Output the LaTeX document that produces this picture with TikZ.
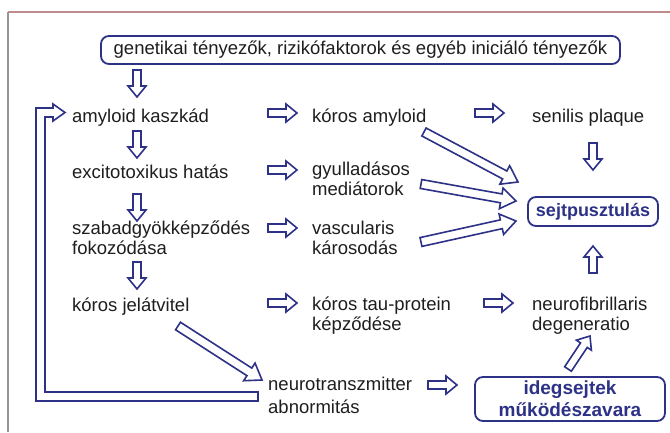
\documentclass[tikz,border=0pt]{standalone}
\usepackage{fontspec}
\setmainfont{Liberation Sans}
\usetikzlibrary{calc}
\definecolor{ab}{RGB}{45,50,135}
\definecolor{tx}{RGB}{30,30,30}
\definecolor{frametop}{RGB}{190,140,140}
\definecolor{frameleft}{RGB}{150,150,150}
\def\as{4}\def\ah{9}\def\ak{11}
\newcommand\barr[3][]{%
  \path[arr,#1] let \p1=(#2), \p2=(#3), \n1={atan2(\y2-\y1,\x2-\x1)}, \n2={veclen(\x2-\x1,\y2-\y1)} in
   [shift={(\p1)}, rotate=\n1] (0,-\as) -- (\n2-\ak,-\as) -- (\n2-\ak,-\ah) -- (\n2,0) -- (\n2-\ak,\ah) -- (\n2-\ak,\as) -- (0,\as) -- cycle;}
\tikzset{
  arr/.style={draw=ab, fill=white, line width=1.6pt, line join=miter},
  bigarr/.code={\def\as{4.5}\def\ah{10.5}\def\ak{15}},
  lbl/.style={anchor=base west, inner sep=0pt, text=tx, align=left, font=\fontsize{18.5}{20}\selectfont},
  box/.style={draw=ab, line width=1.8pt, rounded corners=8pt, inner sep=0pt, align=center},
}
\begin{document}
\begin{tikzpicture}[x=1pt, y=-1pt]
\useasboundingbox (0,0) rectangle (670,432);
\fill[white] (0,0) rectangle (670,432);
% frame
\draw[frametop, line width=1.2pt] (8,12) -- (670,12);
\draw[frameleft, line width=1.6pt] (8,12) -- (8,432);

% boxes
\node[box, minimum width=519pt, minimum height=28pt, text=tx, font=\fontsize{18.5}{21}\selectfont] (gen) at (360.5,50) {genetikai tényezők, rizikófaktorok és egyéb iniciáló tényezők};
\node[box, minimum width=130pt, minimum height=29pt, text=ab, font=\bfseries\fontsize{18}{21}\selectfont] (sejt) at (593,211.5) {sejtpusztulás};
\node[box, minimum width=190pt, minimum height=44pt, text=ab, font=\bfseries\fontsize{19}{22}\selectfont] (ideg) at (570,399) {idegsejtek\\működészavara};

% labels (base anchor = baseline of the last line)
\node[lbl] (amy) at (72,122) {amyloid kaszkád};
\node[lbl] (kam) at (312,122) {kóros amyloid};
\node[lbl] (sen) at (532,122) {senilis plaque};
\node[lbl] (exc) at (72,178) {excitotoxikus hatás};
\node[lbl] (gyu) at (312,195) {gyulladásos\\mediátorok};
\node[lbl] (sza) at (72,254) {szabadgyökképződés\\fokozódása};
\node[lbl] (vas) at (312,254) {vascularis\\károsodás};
\node[lbl] (kjel) at (72,311) {kóros jelátvitel};
\node[lbl] (tau) at (312,330) {kóros tau-protein\\képződése};
\node[lbl] (neu) at (532,330) {neurofibrillaris\\degeneratio};
\node[lbl, font=\fontsize{18.5}{22.5}\selectfont] (ntr) at (268,413) {neurotranszmitter\\abnormitás};

% arrow end points
\coordinate (d1s) at (137,70);  \coordinate (d1e) at (137,97);
\coordinate (d2s) at (137,131); \coordinate (d2e) at (137,158);
\coordinate (d3s) at (137,194); \coordinate (d3e) at (137,221);
\coordinate (d4s) at (137,262); \coordinate (d4e) at (137,289);
\coordinate (h1s) at (268,113); \coordinate (h1e) at (297,113);
\coordinate (h2s) at (475,113); \coordinate (h2e) at (504,113);
\coordinate (h3s) at (268,170); \coordinate (h3e) at (297,170);
\coordinate (h4s) at (268,228); \coordinate (h4e) at (297,228);
\coordinate (h5s) at (268,303); \coordinate (h5e) at (297,303);
\coordinate (h6s) at (484,303); \coordinate (h6e) at (513,303);
\coordinate (h7s) at (428,385); \coordinate (h7e) at (457,385);
\coordinate (v1s) at (593,143); \coordinate (v1e) at (593,170);
\coordinate (v2s) at (593,273); \coordinate (v2e) at (593,246);
\coordinate (g1s) at (568,369); \coordinate (g1e) at (590,336);
\coordinate (s1s) at (424,132); \coordinate (s1e) at (518,182);
\coordinate (s2s) at (421,184); \coordinate (s2e) at (516,201);
\coordinate (s3s) at (421,242); \coordinate (s3e) at (516,221);
\coordinate (k1s) at (178,326); \coordinate (k1e) at (262,380);

\foreach \a in {d1,d2,d3,d4,h1,h2,h3,h4,h5,h6,h7,v1,v2,g1}{\barr{\a s}{\a e}}
\foreach \a in {s1,s2,s3,k1}{\barr[bigarr]{\a s}{\a e}}

% feedback loop arrow
\draw[arr] (258,392) -- (45,392) -- (45,117) -- (53,117) -- (53,121) -- (65,112.5) -- (53,104) -- (53,108) -- (36,108) -- (36,401) -- (258,401) -- cycle;
\end{tikzpicture}
\end{document}
